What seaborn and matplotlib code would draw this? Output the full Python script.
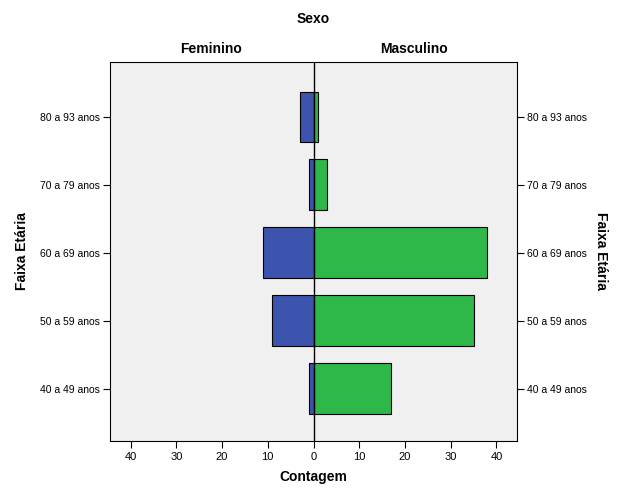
import matplotlib
matplotlib.use("Agg")
import matplotlib.pyplot as plt
import seaborn as sns
import pandas as pd

faixas = ["80 a 93 anos", "70 a 79 anos", "60 a 69 anos", "50 a 59 anos", "40 a 49 anos"]
feminino = [3, 1, 11, 9, 1]
masculino = [1, 3, 38, 35, 17]

sns.set_style("white")
plt.rcParams['font.family'] = ['Liberation Sans', 'DejaVu Sans']
plt.rcParams['text.color'] = 'black'
plt.rcParams['axes.labelcolor'] = 'black'
plt.rcParams['xtick.color'] = 'black'
plt.rcParams['ytick.color'] = 'black'

df = pd.DataFrame({
    "Faixa": faixas * 2,
    "Contagem": [-v for v in feminino] + masculino,
    "Sexo": ["Feminino"] * len(faixas) + ["Masculino"] * len(faixas),
})

fig = plt.figure(figsize=(6.26, 5.01), dpi=100)
ax = fig.add_axes([110/626, 60/501, 407/626, 379/501])
ax.set_facecolor("#F0F0F0")

sns.barplot(data=df, x="Contagem", y="Faixa", hue="Sexo", order=faixas,
            hue_order=["Feminino", "Masculino"], palette=["#3D54AE", "#2EB84A"],
            saturation=1, dodge=False, width=0.75, edgecolor="black", linewidth=0.8,
            orient="h", legend=False, ax=ax)

ax.axvline(0, color="black", lw=1, zorder=5)
ax.set_xlim(-44.5, 44.5)
ax.set_ylim(4.77, -0.81)
ticks = [-40, -30, -20, -10, 0, 10, 20, 30, 40]
ax.set_xticks(ticks)
ax.set_xticklabels([str(abs(t)) for t in ticks], fontsize=8)
ax.tick_params(axis="x", direction="out", length=5, width=0.8, bottom=True, pad=3)
ax.tick_params(axis="y", direction="out", length=5, width=0.8, left=True, right=True,
               labelleft=True, labelright=True, labelsize=7.5, pad=2)
for s in ax.spines.values():
    s.set_color("black")
    s.set_linewidth(0.8)

ax.set_xlabel("Contagem", fontsize=10, fontweight="bold", labelpad=6)
ax.set_ylabel("Faixa Etária", fontsize=10, fontweight="bold", labelpad=8)

fig.text(601/626, 1 - 251/501, "Faixa Etária", ha="center", va="center",
         fontsize=10, fontweight="bold", rotation=-90)
fig.text(313/626, 1 - 19/501, "Sexo", ha="center", va="center", fontsize=10, fontweight="bold")
fig.text(211/626, 1 - 49/501, "Feminino", ha="center", va="center", fontsize=10, fontweight="bold")
fig.text(414/626, 1 - 49/501, "Masculino", ha="center", va="center", fontsize=10, fontweight="bold")

fig.savefig("out.png", dpi=100)
